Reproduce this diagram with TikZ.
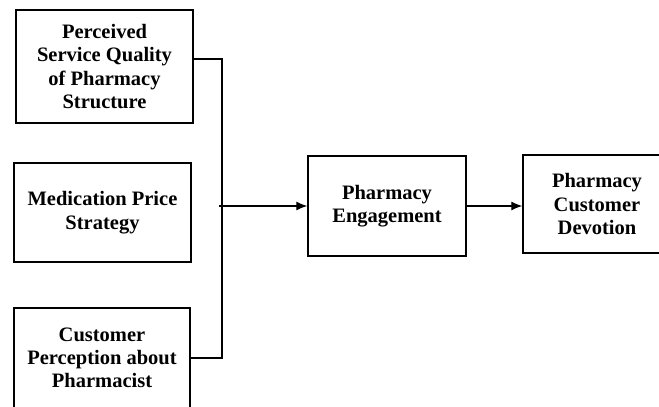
\documentclass[tikz,border=0pt]{standalone}
\usepackage{fontspec}
\setmainfont{Liberation Serif}
\usetikzlibrary{arrows.meta}

\tikzset{
    factor/.style={draw, line width=1.3pt, align=center, inner sep=2pt,
        font=\fontsize{20.5}{23.3}\selectfont\bfseries},
    link/.style={line width=1.2pt},
    >={Latex[length=11pt,width=9pt]}
}

\begin{document}
\begin{tikzpicture}[x=1pt,y=-1pt]
    \clip (0,0) rectangle (659,407);
    % independent factors
    \node[factor, minimum width=177pt, minimum height=113pt] (quality) at (104.5,66.5)
        {Perceived\\Service Quality\\of Pharmacy\\Structure};
    \node[factor, minimum width=177pt, minimum height=99pt] (price) at (102.5,212.5)
        {Medication Price\\Strategy};
    \node[factor, minimum width=176pt, minimum height=100pt] (pharmacist) at (102,358)
        {Customer\\Perception about\\Pharmacist};
    % mediator and outcome
    \node[factor, minimum width=158pt, minimum height=100pt] (engage) at (387,206)
        {Pharmacy\\Engagement};
    \node[factor, minimum width=148pt, minimum height=98pt] (devotion) at (597,204)
        {Pharmacy\\Customer\\Devotion};
    % connectors
    \coordinate (spine) at (222,206);
    \draw[link] ([yshift=7.5pt]quality.east) -| (spine) |- (pharmacist.east);
    \draw[link,->] ([xshift=-3pt]spine) -- (engage.west);
    \draw[link,->] (engage.east) -- (engage.east -| devotion.west);
\end{tikzpicture}
\end{document}
